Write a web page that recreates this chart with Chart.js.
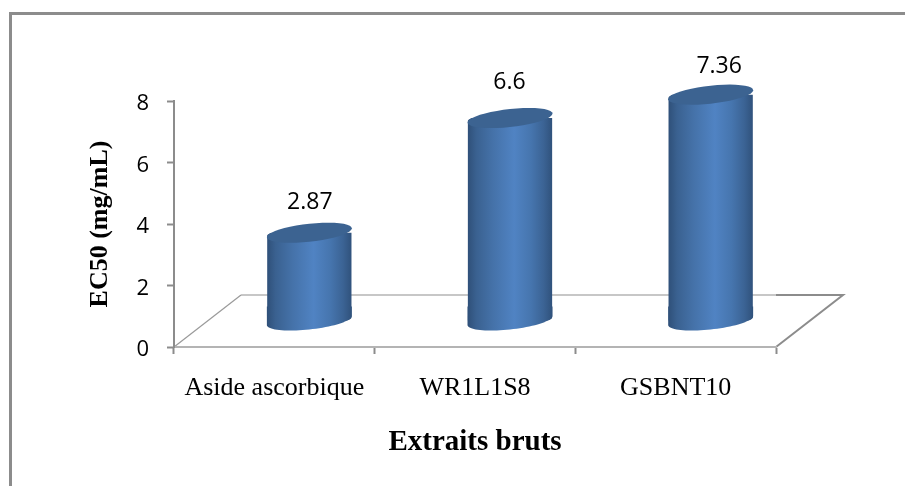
<!DOCTYPE html>
<html>
<head>
<meta charset="utf-8">
<style>
html, body { margin: 0; padding: 0; background: #fff; }
#wrap { width: 905px; height: 486px; }
</style>
<script src="https://cdn.jsdelivr.net/npm/chart.js@4"></script>
</head>
<body>
<div id="wrap"><canvas id="chart" width="905" height="486"></canvas></div>
<script>
// Chart data
const categories = ['Aside ascorbique', 'WR1L1S8', 'GSBNT10'];
const values = [2.87, 6.6, 7.36];
const valueLabels = ['2.87', '6.6', '7.36'];
const yTicks = [0, 2, 4, 6, 8];

// Look of the fake 3D
const depthX = 67;
const depthY = 52;
const shiftX = 35;
const barPercent = 0.42;
const barInflate = 0.33; // chart.js grows borderless bars by this much
const capB = 9;
const capK = 4.5;
const labelNudge = [[0.5, -30], [-0.5, -36], [8.5, -28]];

function barGradient(ctx, x, w) {
	const g = ctx.createLinearGradient(x - w / 2, 0, x + w / 2, 0);
	g.addColorStop(0, '#2f5079');
	g.addColorStop(0.1, '#3a6190');
	g.addColorStop(0.3, '#4572a9');
	g.addColorStop(0.55, '#5083c3');
	g.addColorStop(0.75, '#4675ae');
	g.addColorStop(0.9, '#3b6394');
	g.addColorStop(1, '#30527c');
	return g;
}

function capArc(ctx, cx, cy, a, t0, t1, move) {
	for (let i = 0; i <= 40; i++) {
		const t = t0 + ((t1 - t0) * i) / 40;
		const px = cx + a * Math.cos(t);
		const py = cy + capB * Math.sin(t) - capK * Math.cos(t);
		if (i === 0 && move) ctx.moveTo(px, py);
		else ctx.lineTo(px, py);
	}
}

const cylinderPlugin = {
	id: 'cylinder',
	beforeDatasetsDraw(chart) {
		const ctx = chart.ctx;
		const bars = chart.getDatasetMeta(0).data;
		ctx.save();
		ctx.translate(shiftX, -depthY / 2);
		bars.forEach((bar) => {
			const a = bar.width / 2 + barInflate;
			// rounded lower end of each cylinder
			ctx.beginPath();
			ctx.moveTo(bar.x - a, bar.base - 14);
			ctx.lineTo(bar.x + a, bar.base - 14);
			capArc(ctx, bar.x, bar.base, a, 0, Math.PI, false);
			ctx.closePath();
			ctx.fillStyle = barGradient(ctx, bar.x, bar.width);
			ctx.fill();
			// shade the bar itself from its real position
			bar.options = Object.assign({}, bar.options, {
				backgroundColor: barGradient(ctx, bar.x, bar.width),
			});
		});
		// keep the square bar corners inside the curved ends
		ctx.beginPath();
		bars.forEach((bar) => {
			const a = bar.width / 2 + 1;
			capArc(ctx, bar.x, bar.y, a, Math.PI, Math.PI * 2, true);
			capArc(ctx, bar.x, bar.base, a, 0, Math.PI, false);
			ctx.closePath();
		});
		ctx.clip();
	},
	afterDatasetsDraw(chart) {
		const ctx = chart.ctx;
		const bars = chart.getDatasetMeta(0).data;
		ctx.restore();
		ctx.save();
		ctx.translate(shiftX, -depthY / 2);
		bars.forEach((bar) => {
			ctx.beginPath();
			capArc(ctx, bar.x, bar.y, bar.width / 2 + barInflate, 0, Math.PI * 2, true);
			ctx.closePath();
			ctx.fillStyle = '#3c6391';
			ctx.fill();
		});
		ctx.restore();

		// value labels
		ctx.save();
		ctx.font = '23px "Open Sans"';
		ctx.fillStyle = '#000';
		ctx.textAlign = 'center';
		ctx.textBaseline = 'middle';
		bars.forEach((bar, i) => {
			const tx = bar.x + shiftX + labelNudge[i][0];
			const ty = bar.y - depthY / 2 + labelNudge[i][1];
			ctx.fillText(valueLabels[i], tx, ty);
		});
		ctx.restore();
	},
};

// Frame and floor go under the bars
const floorPlugin = {
	id: 'floor',
	beforeDraw(chart) {
		const ctx = chart.ctx;
		const { left, right } = chart.chartArea;
		const y0 = chart.scales.y.getPixelForValue(0);
		ctx.save();
		ctx.fillStyle = '#fff';
		ctx.fillRect(0, 0, chart.width, chart.height);
		ctx.fillStyle = '#8c8c8c';
		ctx.fillRect(9, 12, chart.width - 9, 3);
		ctx.fillRect(9, 12, 3, chart.height - 12);

		// back edge
		ctx.strokeStyle = '#b4b4b4';
		ctx.lineWidth = 1.5;
		ctx.beginPath();
		ctx.moveTo(left + depthX, y0 - depthY);
		ctx.lineTo(right, y0 - depthY);
		ctx.stroke();
		// left side
		ctx.strokeStyle = '#9a9a9a';
		ctx.lineWidth = 1.2;
		ctx.beginPath();
		ctx.moveTo(left, y0);
		ctx.lineTo(left + depthX, y0 - depthY);
		ctx.stroke();
		// right side
		ctx.strokeStyle = '#8c8c8c';
		ctx.lineWidth = 2;
		ctx.beginPath();
		ctx.moveTo(right, y0);
		ctx.lineTo(right + depthX, y0 - depthY);
		ctx.lineTo(right, y0 - depthY);
		ctx.stroke();
		ctx.restore();
	},
};

new Chart(document.getElementById('chart'), {
	type: 'bar',
	data: {
		labels: categories,
		datasets: [
			{
				data: values,
				barPercentage: barPercent,
				categoryPercentage: 1,
				backgroundColor: '#4f81bd',
			},
		],
	},
	plugins: [floorPlugin, cylinderPlugin],
	options: {
		responsive: false,
		animation: false,
		layout: { padding: { left: 0, right: 129, top: 101, bottom: 0 } },
		plugins: { legend: { display: false }, tooltip: { enabled: false } },
		scales: {
			x: {
				afterFit(s) {
					s.height = 139;
				},
				grid: {
					drawOnChartArea: false,
					drawTicks: true,
					tickLength: 7,
					tickWidth: 2,
					tickColor: '#8c8c8c',
				},
				border: { color: '#b4b4b4', width: 2 },
				ticks: {
					color: '#000',
					padding: 19,
					maxRotation: 0,
					font: { family: '"Liberation Serif"', size: 26 },
				},
				title: {
					display: true,
					text: 'Extraits bruts',
					color: '#000',
					font: { family: '"Liberation Serif"', size: 29, weight: 'bold' },
					padding: { top: 0, bottom: 26 },
				},
			},
			y: {
				min: 0,
				max: 8,
				afterFit(s) {
					s.width = 174;
				},
				afterBuildTicks(s) {
					s.ticks = yTicks.map((v) => ({ value: v }));
				},
				grid: {
					drawOnChartArea: false,
					tickLength: 7,
					tickWidth: 2,
					tickColor: '#8c8c8c',
				},
				border: { color: '#8c8c8c', width: 2 },
				ticks: {
					color: '#000',
					padding: 18,
					labelOffset: 3,
					font: { family: '"Open Sans"', size: 22 },
				},
				title: {
					display: true,
					text: 'EC50 (mg/mL)',
					color: '#000',
					font: { family: '"Liberation Serif"', size: 26, weight: 'bold' },
					padding: { top: 85, bottom: 0 },
				},
			},
		},
	},
});
</script>
</body>
</html>
